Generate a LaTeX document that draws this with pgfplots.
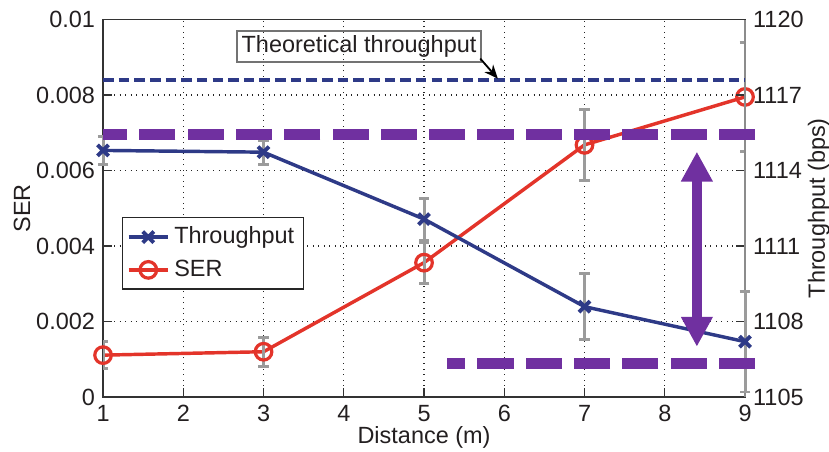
\documentclass[border=0pt]{standalone}
\usepackage{fontspec}
\setmainfont{Liberation Sans}
\usepackage{pgfplots}
\usepackage{pgfplotstable}
\pgfplotsset{compat=1.18}
\usetikzlibrary{arrows.meta}
\definecolor{navy}{HTML}{2E3A87}
\definecolor{serred}{HTML}{E3342A}
\definecolor{purp}{HTML}{7030A0}
\definecolor{errgray}{HTML}{9B9B9B}
\definecolor{txt}{HTML}{231F20}
\pgfplotstableread{
x y e
1 0.00111 0.00035
3 0.00120 0.00038
5 0.00356 0.00054
7 0.00668 0.00095
9 0.00795 0.00144
}\serdata
\pgfplotstableread{
x y e
1 1114.80 0.55
3 1114.73 0.48
5 1112.07 0.83
7 1108.59 1.32
9 1107.20 2.00
}\thrdata
\begin{document}
\begin{tikzpicture}
\pgfplotsset{
  common/.style={
    width=279.1pt, height=164.1pt, scale only axis,
    xmin=1, xmax=9,
    tick align=inside, major tick length=4pt,
    /pgf/number format/assume math mode=true,
    /pgf/number format/1000 sep={},
    scaled y ticks=false,
    tick label style={font=\fontsize{10.2}{12}\selectfont, text=txt},
    label style={font=\fontsize{10.2}{12}\selectfont, text=txt},
  }
}
\begin{axis}[common,
  ymin=0, ymax=0.01,
  xtick={1,2,...,9},
  ytick={0,0.002,0.004,0.006,0.008,0.01},
  yticklabels={0,0.002,0.004,0.006,0.008,0.01},
  xtick pos=bottom, ytick pos=left,
  grid=major, grid style={dotted, black!85, line width=0.5pt},
  axis line style={draw=black!80, line width=0.6pt},
  major tick style={black!80, line width=0.6pt},
  xlabel={Distance (m)}, ylabel={SER},
  xlabel style={at={(axis description cs:0.5,-0.106)}, anchor=center},
  ylabel style={at={(axis description cs:-0.126,0.5)}, anchor=center},
]
\addplot[serred, line width=1.5pt, mark=o, mark size=3.6pt, mark options={line width=1.4pt}] table[x=x,y=y] {\serdata};
\addplot[draw=none, mark=none, forget plot,
  error bars/.cd, y dir=both, y explicit,
  error bar style={draw=errgray, line width=1.3pt},
  error mark options={draw=errgray, rotate=90, mark size=2.3pt, line width=1.3pt}]
  table[x=x,y=y,y error=e] {\serdata};
\end{axis}
\begin{axis}[common,
  ymin=1105, ymax=1120,
  ytick={1105,1108,1111,1114,1117,1120},
  axis y line*=right, axis x line=none,
  y axis line style={draw=black!45, line width=0.9pt},
  major tick style={black!80, line width=0.6pt},
  ylabel={Throughput (bps)},
  ylabel style={at={(axis description cs:1.115,0.5)}, anchor=center},
  clip=false,
  legend style={at={(axis description cs:0.029,0.477)}, anchor=north west,
    draw=black!85, line width=0.6pt, font=\fontsize{10.2}{12}\selectfont, text=txt,
    inner sep=2pt, row sep=1.5pt},
  legend cell align=left,
]
\addplot[navy, line width=1.5pt, mark=x, mark size=3.4pt, mark options={line width=1.7pt}] table[x=x,y=y] {\thrdata};
\addlegendentry{Throughput}
\addlegendimage{serred, line width=1.5pt, mark=o, mark size=3.6pt, mark options={line width=1.4pt}}
\addlegendentry{SER}
\addplot[draw=none, mark=none, forget plot,
  error bars/.cd, y dir=both, y explicit,
  error bar style={draw=errgray, line width=1.3pt},
  error mark options={draw=errgray, rotate=90, mark size=2.3pt, line width=1.3pt}]
  table[x=x,y=y,y error=e] {\thrdata};
% theoretical throughput
\addplot[navy, line width=1.7pt, dash pattern=on 4.6pt off 2.2pt, forget plot] coordinates {(1,1117.6) (9,1117.6)};
% purple bands
\addplot[purp, line width=5pt, dash pattern=on 15.7pt off 5.3pt, forget plot] coordinates {(9.125,1115.44) (1,1115.44)};
\addplot[purp, line width=5pt, dash pattern=on 15.7pt off 5.3pt, forget plot] coordinates {(9.125,1106.34) (5.29,1106.34)};
\draw[purp, line width=4.3pt, {Triangle[width=13pt,length=13pt]}-{Triangle[width=13pt,length=13pt]}] (axis cs:8.4,1114.75) -- (axis cs:8.4,1107.0);
\node[draw=black!55, line width=1pt, inner sep=2pt, text=txt, font=\fontsize{10.2}{12}\selectfont, minimum height=13pt] at (axis cs:4.19,1118.92) {Theoretical throughput};
\draw[black, line width=0.8pt, -{Stealth[length=6pt,width=5pt]}] (axis cs:5.70,1118.45) -- (axis cs:5.92,1117.65);
\end{axis}
\pgfresetboundingbox
\path[use as bounding box] (-44.8pt,-23.5pt) rectangle (315.6pt,172.6pt);
\end{tikzpicture}
\end{document}
